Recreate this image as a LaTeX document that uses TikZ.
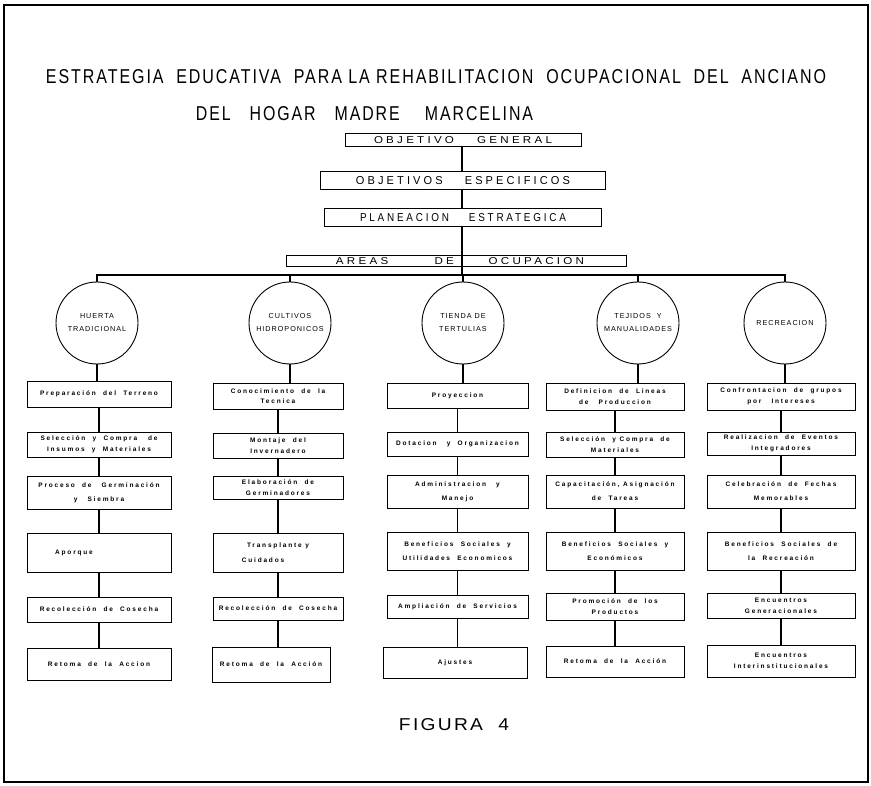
\documentclass[tikz,border=0pt]{standalone}
\usepackage{fontspec}
\usepackage{graphicx}
\setmainfont{Liberation Sans}
\newfontfamily\lsp[LetterSpace=28]{Liberation Sans}
\newfontfamily\csp[LetterSpace=14]{Liberation Sans}
\newfontfamily\tsp[LetterSpace=12]{Liberation Sans}
\newcommand{\fitt}[3]{\resizebox{#1}{#2}{\lsp #3}}
\begin{document}
\begin{tikzpicture}[x=1pt,y=-1pt,
  topbox/.style={draw,line width=1pt,inner sep=0pt,anchor=center},
  cb/.style={draw,line width=0.9pt,inner sep=0pt,align=center,
    font=\lsp\bfseries\fontsize{6.5}{7.4}\selectfont},
  area/.style={draw,circle,line width=0.9pt,inner sep=0pt,minimum size=82pt,align=center,
    font=\csp\fontsize{7.2}{8}\selectfont},
  conn/.style={line width=1.1pt}]
\useasboundingbox (0,0) rectangle (871,786);
\draw[line width=2pt] (4,5) rectangle (868,782);

% title
\node[inner sep=0pt] (t1) at (436,77) {\resizebox{780pt}{14pt}{\tsp ESTRATEGIA\ \ EDUCATIVA\ \ PARA LA REHABILITACION\ \ OCUPACIONAL\ \ DEL\ \ ANCIANO}};
\node[inner sep=0pt] (t2) at (364.5,114) {\resizebox{337pt}{14pt}{\tsp DEL\ \ \ HOGAR\ \ \ MADRE\ \ \ \ MARCELINA}};

% top boxes
\node[topbox,minimum width=236pt,minimum height=13pt] (og) at (463,140.5) {\fitt{178pt}{7pt}{OBJETIVO\qquad GENERAL}};
\node[topbox,minimum width=285pt,minimum height=18pt] (oe) at (463,181) {\fitt{214pt}{8pt}{OBJETIVOS\qquad ESPECIFICOS}};
\node[topbox,minimum width=277pt,minimum height=18pt] (pe) at (463,218) {\fitt{206pt}{8pt}{PLANEACION\qquad ESTRATEGICA}};
\node[topbox,minimum width=340pt,minimum height=11pt] (ar) at (456,261.5) {\hspace*{8pt}\fitt{248pt}{7pt}{AREAS\qquad\qquad DE\qquad\quad OCUPACION}};
\draw[conn] (og.south -| 462,0) -- (oe.north -| 462,0);
\draw[conn] (oe.south -| 462,0) -- (pe.north -| 462,0);
\draw[conn] (pe.south -| 462,0) -- (ar.south -| 462,0);
\coordinate (bus) at (0,275);

% area circles
\node[area] (h1) at (97,323) {HUERTA\\[5pt]TRADICIONAL};
\node[area] (h2) at (290,323) {CULTIVOS\\[5pt]HIDROPONICOS};
\node[area] (h3) at (463,323) {TIENDA DE\\[5pt]TERTULIAS};
\node[area] (h4) at (638,323) {TEJIDOS \ Y\\[5pt]MANUALIDADES};
\node[area] (h5) at (785,323) {RECREACION};

\draw[conn] (ar.south -| 462,0) -- (462,0 |- bus);
\draw[conn] (h1.north) -- (h1.north |- bus) -- (h5.north |- bus) -- (h5.north);
\foreach \n in {h2,h3,h4} \draw[conn] (\n.north) -- (\n.north |- bus);

% column 1
\node[cb,minimum width=144pt,minimum height=26pt] (a1) at (99,394) {Preparación \ del \ Terreno};
\node[cb,minimum width=144pt,minimum height=25pt] (a2) at (99,444.5) {Selección \ y \ Compra \ \ de\\[4pt]Insumos \ y \ Materiales};
\node[cb,minimum width=144pt,minimum height=33pt] (a3) at (99,492.5) {Proceso \ de \quad Germinación\\[6.5pt]y \quad Siembra};
\node[cb,minimum width=144pt,minimum height=39pt] (a4) at (99,552.5) {Aporque\hspace*{50pt}};
\node[cb,minimum width=144pt,minimum height=25pt] (a5) at (99,609.5) {Recolección \ de \ Cosecha};
\node[cb,minimum width=144pt,minimum height=32pt] (a6) at (99,664) {Retoma \ de \ la \ Accion};

% column 2
\node[cb,minimum width=130pt,minimum height=26pt] (b1) at (278,396) {Conocimiento \ de \ la\\[2.5pt]Tecnica};
\node[cb,minimum width=130pt,minimum height=25pt] (b2) at (278,445.5) {Montaje \ del\\[4pt]Invernadero};
\node[cb,minimum width=130pt,minimum height=23pt] (b3) at (278,487.5) {Elaboración \ de\\[4pt]Germinadores};
\node[cb,minimum width=130pt,minimum height=39pt] (b4) at (278,552.5) {Transplante y\\[7.5pt]Cuidados\hspace*{30pt}};
\node[cb,minimum width=130pt,minimum height=23pt] (b5) at (278,608.5) {Recolección \ de \ Cosecha};
\node[cb,minimum width=118pt,minimum height=35pt] (b6) at (271,664.5) {Retoma \ de \ la \ Acción};

% column 3
\node[cb,minimum width=141pt,minimum height=25pt] (c1) at (457.5,395.5) {Proyeccion};
\node[cb,minimum width=141pt,minimum height=24pt] (c2) at (457.5,444) {Dotacion \quad y \ Organizacion};
\node[cb,minimum width=141pt,minimum height=33pt] (c3) at (457.5,491.5) {Administracion \quad y\\[6.5pt]Manejo};
\node[cb,minimum width=141pt,minimum height=38pt] (c4) at (457.5,551) {Beneficios \ Sociales \ y\\[6.5pt]Utilidades \ Economicos};
\node[cb,minimum width=141pt,minimum height=23pt] (c5) at (457.5,606.5) {Ampliación \ de \ Servicios};
\node[cb,minimum width=144pt,minimum height=31pt] (c6) at (455,662.5) {Ajustes};

% column 4
\node[cb,minimum width=138pt,minimum height=27pt] (d1) at (615,396.5) {Definicion \ de \ Lineas\\[4pt]de \quad Produccion};
\node[cb,minimum width=138pt,minimum height=25pt] (d2) at (615,444.5) {Selección \ y Compra \ de\\[4pt]Materiales};
\node[cb,minimum width=138pt,minimum height=33pt] (d3) at (615,491.5) {Capacitación, Asignación\\[6.5pt]de \ Tareas};
\node[cb,minimum width=138pt,minimum height=38pt] (d4) at (615,551) {Beneficios \ Sociales \ y\\[6.5pt]Económicos};
\node[cb,minimum width=138pt,minimum height=27pt] (d5) at (615,606.5) {Promoción \ de \ los\\[4pt]Productos};
\node[cb,minimum width=138pt,minimum height=31pt] (d6) at (615,661.5) {Retoma \ de \ la \ Acción};

% column 5
\node[cb,minimum width=148pt,minimum height=27pt] (e1) at (781,396.5) {Confrontacion \ de \ grupos\\[4pt]por \quad Intereses};
\node[cb,minimum width=148pt,minimum height=23pt] (e2) at (781,443.5) {Realizacion \ de \ Eventos\\[4pt]Integradores};
\node[cb,minimum width=148pt,minimum height=33pt] (e3) at (781,491.5) {Celebración \ de \ Fechas\\[6.5pt]Memorables};
\node[cb,minimum width=148pt,minimum height=38pt] (e4) at (781,551) {Beneficios \ Sociales \ de\\[6.5pt]la \ Recreación};
\node[cb,minimum width=148pt,minimum height=25pt] (e5) at (781,605.5) {Encuentros\\[4pt]Generacionales};
\node[cb,minimum width=148pt,minimum height=32pt] (e6) at (781,661) {Encuentros\\[4pt]Interinstitucionales};

% circle to first box
\draw[conn] (h1.south) -- (h1.south |- a1.north);
\draw[conn] (h2.south) -- (h2.south |- b1.north);
\draw[conn] (h3.south) -- (h3.south |- c1.north);
\draw[conn] (h4.south) -- (h4.south |- d1.north);
\draw[conn] (h5.south) -- (h5.south |- e1.north);

% chains
\foreach \c in {a,b,c,d,e}{
  \foreach \i [evaluate=\i as \j using int(\i+1)] in {1,...,5}{
    \draw[conn] (\c\i.south) -- (\c\i.south |- \c\j.north);
  }
}

\node[inner sep=0pt] (fig) at (454,725) {\resizebox{110pt}{12pt}{\tsp FIGURA\ \ 4}};
\end{tikzpicture}
\end{document}
